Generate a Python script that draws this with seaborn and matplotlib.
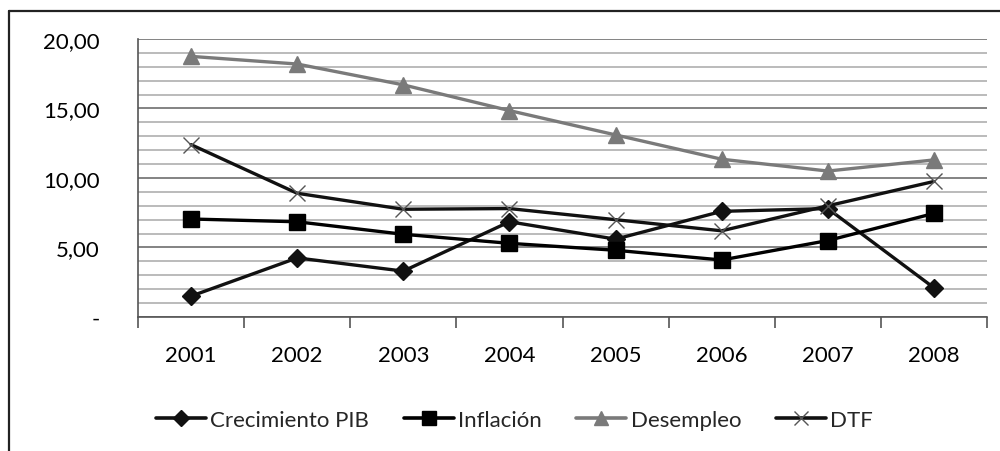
import numpy as np
import pandas as pd
import matplotlib
matplotlib.use("Agg")
import matplotlib.pyplot as plt
from matplotlib.lines import Line2D
from matplotlib.ticker import MultipleLocator, FixedLocator, FuncFormatter
import seaborn as sns

years = ["2001", "2002", "2003", "2004", "2005", "2006", "2007", "2008"]
crecimiento_pib = [1.5, 4.25, 3.3, 6.85, 5.6, 7.6, 7.8, 2.1]
inflacion = [7.05, 6.85, 5.95, 5.3, 4.8, 4.1, 5.5, 7.45]
desempleo = [18.75, 18.2, 16.7, 14.85, 13.1, 11.35, 10.5, 11.3]
dtf = [12.4, 8.9, 7.75, 7.8, 7.0, 6.2, 8.0, 9.75]

series_names = ["Crecimiento PIB", "Inflación", "Desempleo", "DTF"]
series_values = [crecimiento_pib, inflacion, desempleo, dtf]

sns.set_theme(style="white")
plt.rcParams["font.family"] = ["Lato", "DejaVu Sans"]

FS = 16

df = pd.DataFrame({
    "pos": np.tile(np.arange(len(years)), len(series_names)),
    "valor": np.concatenate(series_values),
    "serie": np.repeat(series_names, len(years)),
})

fig = plt.figure(figsize=(10, 4.52), dpi=100)
ax = fig.add_axes([0.138, 0.2965, 0.849, 0.615])

styles = {
    "Crecimiento PIB": dict(color="#111111", marker="D", markersize=9, mec="#111111", mew=1),
    "Inflación": dict(color="#000000", marker="s", markersize=11.5, mec="#000000", mew=1),
    "Desempleo": dict(color="#7a7a7a", marker="^", markersize=11.5, mec="#7a7a7a", mew=1),
    "DTF": dict(color="#111111", marker="x", markersize=12, mec="#555555", mew=1.0),
}

handles = []
for name in series_names:
    st = styles[name]
    sub = df[df["serie"] == name]
    sns.lineplot(data=sub, x="pos", y="valor", ax=ax, color=st["color"], linewidth=2.4,
                 marker=st["marker"], markersize=st["markersize"],
                 markeredgecolor=st["mec"], markeredgewidth=st["mew"], zorder=3)
    handles.append(Line2D([0], [0], color=st["color"], linewidth=2.6, marker=st["marker"],
                          markersize=st["markersize"] * 0.85, markeredgecolor=st["mec"],
                          markeredgewidth=st["mew"]))

ax.set_xlim(-0.5, len(years) - 0.5)
ax.set_ylim(0, 20)
ax.set_xlabel("")
ax.set_ylabel("")

# gridlines
ax.yaxis.set_major_locator(MultipleLocator(5))
ax.yaxis.set_minor_locator(MultipleLocator(1))
ax.grid(which="major", axis="y", color="#7a7a7a", linewidth=1.3, zorder=0)
ax.grid(which="minor", axis="y", color="#a8a8a8", linewidth=1.1, zorder=0)
ax.grid(which="both", axis="x", visible=False)

def fmt(v, pos):
    if abs(v) < 1e-9:
        return "-"
    return f"{v:.2f}".replace(".", ",")

ax.yaxis.set_major_formatter(FuncFormatter(fmt))
ax.tick_params(axis="y", which="major", length=8, width=1.2, color="#555555",
               labelsize=FS, pad=19.5, labelcolor="#000000")
ax.tick_params(axis="y", which="minor", length=0)

ax.set_xticks(np.arange(len(years)))
ax.set_xticklabels(years)
ax.xaxis.set_minor_locator(FixedLocator(np.arange(-0.5, len(years), 1.0)))
ax.tick_params(axis="x", which="major", length=0, labelsize=FS, pad=20, labelcolor="#000000")
ax.tick_params(axis="x", which="minor", length=8, width=1.2, color="#555555", bottom=True)

for s in ["top", "right"]:
    ax.spines[s].set_visible(False)
ax.spines["left"].set_color("#555555")
ax.spines["left"].set_linewidth(1.2)
ax.spines["bottom"].set_color("#555555")
ax.spines["bottom"].set_linewidth(1.2)

leg = fig.legend(handles, series_names, loc="center", bbox_to_anchor=(0.5145, 0.068),
                 ncol=4, frameon=False, fontsize=FS, handlelength=2.25,
                 handletextpad=0.2, columnspacing=1.55)

# outer chart frame (clipped by image edges)
fig.add_artist(Line2D([0.009, 1.0], [1 - 12 / 452, 1 - 12 / 452], color="#222222", linewidth=1.6,
                      transform=fig.transFigure))
fig.add_artist(Line2D([0.009, 0.009], [0.0, 1 - 12 / 452], color="#222222", linewidth=1.6,
                      transform=fig.transFigure))

fig.savefig("out.png", dpi=100)
